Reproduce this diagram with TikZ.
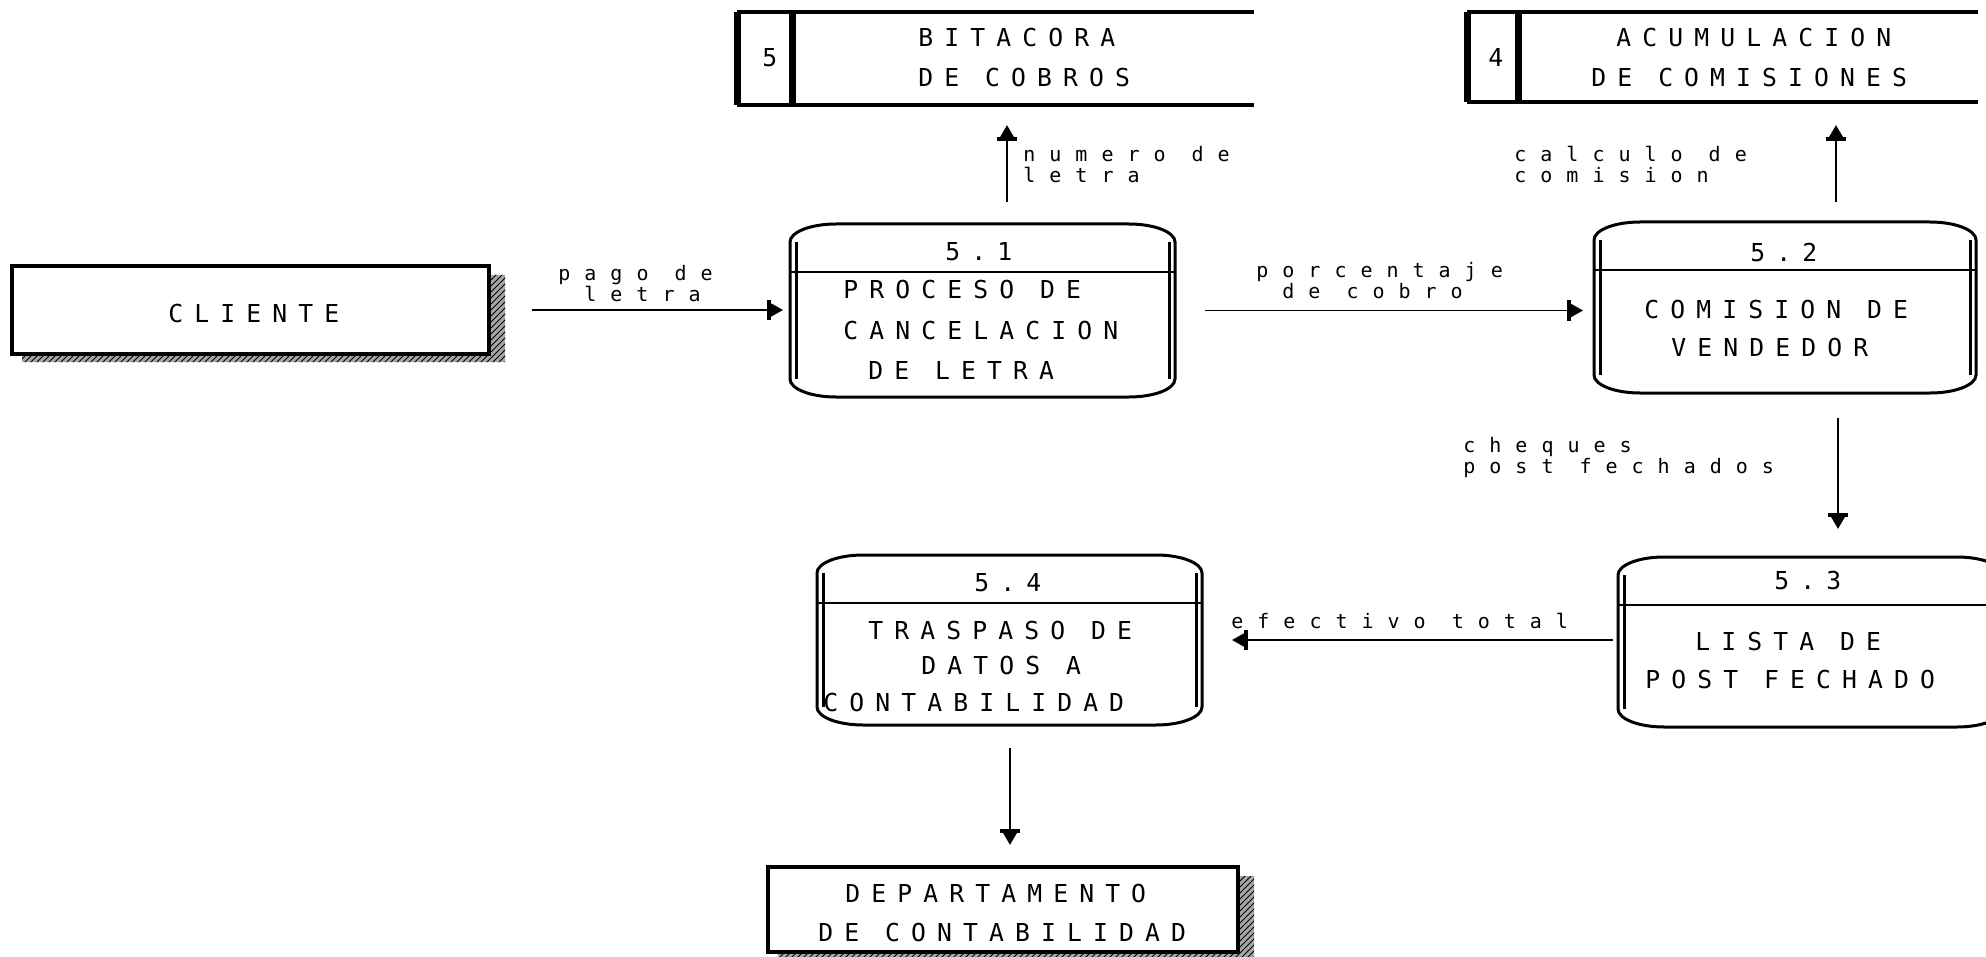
\documentclass[tikz,border=0pt]{standalone}
\usepackage{fontspec}
\newfontfamily\dfdbig[LetterSpace=45]{DejaVu Sans Mono}
\newfontfamily\dfdsmall[LetterSpace=70]{DejaVu Sans Mono}
\usetikzlibrary{arrows.meta,patterns,calc}
\tikzset{
  bigtxt/.style={font=\dfdbig\fontsize{12.35pt}{14pt}\selectfont, inner sep=0pt, anchor=base west},
  smalltxt/.style={font=\dfdsmall\fontsize{10pt}{12pt}\selectfont, inner sep=0pt, anchor=base west},
  holder/.style={draw=none, inner sep=0pt, outer sep=0pt},
  procline/.style={line width=1.5pt},
  hdrline/.style={line width=1.1pt},
  boxline/.style={line width=2pt},
  storeline/.style={line width=1.6pt},
  storebar/.style={line width=3.5pt},
  shadowfill/.style={fill=black!35, postaction={pattern=north east lines, pattern color=black}},
  tipstyle/.style={-{Bar[width=10pt,line width=2.2pt]Triangle[length=6pt,width=6.5pt]}},
  hflow/.style={line width=0.9pt, tipstyle},
  vflow/.style={line width=1.4pt, tipstyle},
}
\newcommand\dfdproc[1]{%
  \draw[procline] ([xshift=23pt]#1.north west) -- ([xshift=-23pt]#1.north east)
    arc[start angle=90,end angle=0,x radius=23pt,y radius=9pt]
    -- ([yshift=9pt]#1.south east)
    arc[start angle=0,end angle=-90,x radius=23pt,y radius=9pt]
    -- ([xshift=23pt]#1.south west)
    arc[start angle=270,end angle=180,x radius=23pt,y radius=9pt]
    -- ([yshift=-9pt]#1.north west)
    arc[start angle=180,end angle=90,x radius=23pt,y radius=9pt] -- cycle;
  \draw[procline] ([xshift=3pt,yshift=-9pt]#1.north west) -- ([xshift=3pt,yshift=9pt]#1.south west);
  \draw[procline] ([xshift=-3pt,yshift=-9pt]#1.north east) -- ([xshift=-3pt,yshift=9pt]#1.south east);
  \draw[hdrline] ([yshift=-24pt]#1.north west) -- ([yshift=-24pt]#1.north east);
}
\newcommand\dfdstore[2]{%
  \draw[storeline] (#1.north west) -- (#1.north east);
  \draw[storeline] (#1.south west) -- (#1.south east);
  \draw[storebar] (#1.north west) -- (#1.south west);
  \draw[storebar] ([xshift=#2]#1.north west) -- ([xshift=#2]#1.south west);
}
\begin{document}
\begin{tikzpicture}[x=0.5pt,y=-0.5pt]
\useasboundingbox (0,0) rectangle (1986,957);

% ---------- holders ----------
\node[holder, minimum width=238.5pt, minimum height=44pt] (cli) at (250.5,310) {};
\node[holder, minimum width=235pt, minimum height=42.5pt] (dep) at (1003,909.5) {};
\node[holder, minimum width=258.5pt, minimum height=46.5pt] (s5) at (995.5,58.5) {};
\node[holder, minimum width=255.5pt, minimum height=45pt] (s4) at (1722.5,57) {};
\node[holder, minimum width=192.5pt, minimum height=86.5pt] (p51) at (982.5,310.5) {};
\node[holder, minimum width=191pt, minimum height=85.5pt] (p52) at (1785,307.5) {};
\node[holder, minimum width=192.5pt, minimum height=85pt] (p53) at (1810.5,642) {};
\node[holder, minimum width=192.5pt, minimum height=85pt] (p54) at (1009.5,640) {};

% ---------- external entities ----------
\fill[shadowfill] ($(cli.north east)+(2,9)$) -- ($(cli.north east)+(16,9)$) -- ($(cli.south east)+(16,8)$)
  -- ($(cli.south west)+(10,8)$) -- ($(cli.south west)+(10,1)$) -- ($(cli.south east)+(2,1)$) -- cycle;
\draw[boxline] (cli.north west) rectangle (cli.south east);
\fill[shadowfill] ($(dep.north east)+(2,9)$) -- ($(dep.north east)+(16,9)$) -- ($(dep.south east)+(16,8)$)
  -- ($(dep.south west)+(10,8)$) -- ($(dep.south west)+(10,1)$) -- ($(dep.south east)+(2,1)$) -- cycle;
\draw[boxline] (dep.north west) rectangle (dep.south east);

% ---------- stores ----------
\dfdstore{s5}{27.5pt}
\dfdstore{s4}{25.5pt}

% ---------- processes ----------
\dfdproc{p51}
\dfdproc{p52}
\dfdproc{p53}
\dfdproc{p54}

% ---------- texts ----------
\node[bigtxt] (tcli) at (168,322) {CLIENTE};
\node[bigtxt] (ts5n) at (762,67) {5};
\node[bigtxt] (ts5a) at (918,47) {BITACORA};
\node[bigtxt] (ts5b) at (918,87) {DE COBROS};
\node[bigtxt] (ts4n) at (1488,67) {4};
\node[bigtxt] (ts4a) at (1616,47) {ACUMULACION};
\node[bigtxt] (ts4b) at (1591,87) {DE COMISIONES};
\node[bigtxt] (tp51n) at (945,261) {5.1};
\node[bigtxt] (tp51a) at (843,299) {PROCESO DE};
\node[bigtxt] (tp51b) at (843,339) {CANCELACION};
\node[bigtxt] (tp51c) at (868,379) {DE LETRA};
\node[bigtxt] (tp52n) at (1750,262) {5.2};
\node[bigtxt] (tp52a) at (1644,319) {COMISION DE};
\node[bigtxt] (tp52b) at (1671,357) {VENDEDOR};
\node[bigtxt] (tp53n) at (1774,589) {5.3};
\node[bigtxt] (tp53a) at (1695,650) {LISTA DE};
\node[bigtxt] (tp53b) at (1645,688) {POST FECHADO};
\node[bigtxt] (tp54n) at (974,591) {5.4};
\node[bigtxt] (tp54a) at (868,639) {TRASPASO DE};
\node[bigtxt] (tp54b) at (921,674) {DATOS A};
\node[bigtxt] (tp54c) at (823,711) {CONTABILIDAD};
\node[bigtxt] (tdepa) at (845,902) {DEPARTAMENTO};
\node[bigtxt] (tdepb) at (818,941) {DE CONTABILIDAD};

% ---------- flow labels ----------
\node[smalltxt] (l1a) at (558,280) {pago de};
\node[smalltxt] (l1b) at (584,301) {letra};
\node[smalltxt] (l2a) at (1023,162) {numero de};
\node[smalltxt] (l2b) at (1023,183) {letra};
\node[smalltxt] (l3a) at (1256,278) {porcentaje};
\node[smalltxt] (l3b) at (1282,299) {de cobro};
\node[smalltxt] (l4a) at (1514,162) {calculo de};
\node[smalltxt] (l4b) at (1514,183) {comision};
\node[smalltxt] (l5a) at (1463,452) {cheques};
\node[smalltxt] (l5b) at (1463,473) {post fechados};
\node[smalltxt] (l6a) at (1231,628) {efectivo total};

% ---------- flows ----------
\coordinate (ax1) at (1007,0);
\coordinate (ax2) at (1836,0);
\coordinate (ax3) at (1838,0);
\coordinate (ax4) at (0,640);
\coordinate (ax5) at (1010,0);
\draw[hflow, shorten <=21.5pt, shorten >=3.5pt] (cli.east) -- (cli.east -| p51.west);
\draw[vflow, shorten <=11pt, shorten >=10pt] (p51.north -| ax1) -- (s5.south -| ax1);
\draw[hflow, shorten <=15pt, shorten >=5.5pt] (p51.east) -- (p51.east -| p52.west);
\draw[vflow, shorten <=10pt, shorten >=11.5pt] (p52.north -| ax2) -- (s4.south -| ax2);
\draw[vflow, shorten <=12.5pt, shorten >=14pt] (p52.south -| ax3) -- (p53.north -| ax3);
\draw[hflow, shorten <=2.5pt, shorten >=15pt] (p53.west |- ax4) -- (p54.east |- ax4);
\draw[vflow, shorten <=11.5pt, shorten >=11pt] (p54.south -| ax5) -- (dep.north -| ax5);
\end{tikzpicture}
\end{document}
